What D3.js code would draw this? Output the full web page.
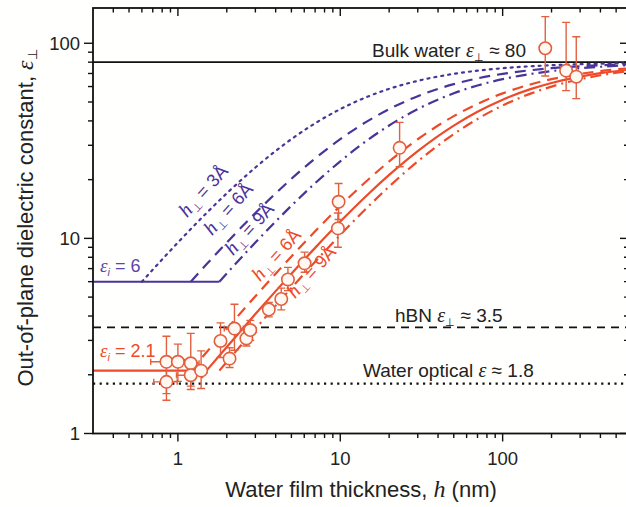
<!DOCTYPE html>
<html><head><meta charset="utf-8">
<script src="https://cdn.jsdelivr.net/npm/d3@7"></script>
<style>
html,body{margin:0;padding:0;background:#fffffd;}
svg{display:block;font-family:Arial,"Liberation Sans",sans-serif;}
</style></head>
<body><svg id="c" width="626" height="507"></svg>
<script>
// ---------- data ----------
const xDomain = [0.3, 600];
const yDomain = [1, 150];
const xMajorTicks = [1, 10, 100];
const xMinorTicks = [0.4,0.5,0.6,0.7,0.8,0.9,2,3,4,5,6,7,8,9,20,30,40,50,60,70,80,90,200,300,400,500];
const yMajorTicks = [1, 10, 100];
const yMinorTicks = [2,3,4,5,6,7,8,9,20,30,40,50,60,70,80,90];

const bulkWater = 80, hbn = 3.5, waterOptical = 1.8;

// flat segments
const purpleFlatH = [0.3, 1.8], purpleFlatE = [6, 6];
const redFlatH = [0.3, 1.5], redFlatE = [2.1, 2.1];

// purple (eps_i = 6) curves
const p3H = [0.6,0.8,1,1.5,2,3,4,5,7,10,15,20,30,50,70,100,150,200,300,400,600];
const p3E = [6.0,7.80,9.52,13.48,17.02,23.08,28.07,32.26,38.89,45.98,53.57,58.39,64.17,69.69,72.35,74.49,76.24,77.15,78.07,78.55,79.03];
const p6H = [1.2,1.5,2,3,4,5,7,10,15,20,30,50,70,100,150,200,300,400,600];
const p6E = [6.0,7.36,9.52,13.48,17.02,20.20,25.69,32.26,40.27,45.98,53.57,61.73,66.04,69.69,72.82,74.49,76.24,77.15,78.07];
const p9H = [1.8,2,3,4,5,7,10,15,20,30,50,70,100,150,200,300,400,600];
const p9E = [6.0,6.61,9.52,12.21,14.71,19.18,24.84,32.26,37.91,45.98,55.40,60.74,65.47,69.69,72.01,74.49,75.79,77.15];

// red (eps_i = 2.1) curves
const rFitH = [1.5,2,3,4,5,7,10,15,20,30,50,70,100,150,200,300,400,600];
const rFitE = [2.10,2.776,4.093,5.365,6.596,8.940,12.19,16.99,21.15,28.02,37.86,44.57,51.40,58.35,62.59,67.48,70.23,73.21];
const r6H = [1.2,1.5,2,3,4,5,7,10,15,20,30,50,70,100,150,200,300,400,600];
const r6E = [2.10,2.608,3.440,5.051,6.596,8.078,10.87,14.68,20.16,24.80,32.21,42.32,48.90,55.36,61.69,65.44,69.66,71.99,74.47];
const r9H = [1.8,2,3,4,5,7,10,15,20,30,50,70,100,150,200,300,400,600];
const r9E = [2.10,2.327,3.440,4.522,5.573,7.591,10.42,14.67,18.44,24.80,34.25,40.94,47.97,55.36,59.98,65.44,68.56,71.99];

// measured points
const ptH   = [0.85,0.85,1.00,1.20,1.20,1.39,1.83,2.08,2.23,2.64,2.79,3.63,4.33,4.76,6.03,9.67,9.77,23.2,183,246,284];
const ptE   = [2.33,1.84,2.33,2.29,1.99,2.10,2.98,2.42,3.45,3.07,3.39,4.32,4.89,6.16,7.45,11.25,15.4,29.1,94.3,72.4,67.4];
const ptLo  = [1.60,1.48,1.85,1.75,1.68,1.70,2.45,2.18,2.67,2.81,3.00,3.96,4.30,5.40,6.70,9.0,12.5,23.3,68,57.2,52];
const ptHi  = [3.15,2.25,2.87,3.26,2.40,2.65,3.69,2.75,4.60,3.40,3.80,4.70,5.56,7.10,8.50,13.5,19.1,39.3,137,128,108];
const ptHErr= [0.17,0.14,0.10,0.15,0.22,0.12,0.12,0.15,0.30,0.12,0.25,0.20,0.20,0.25,0.30,0.30,0.30,0,0,0,0];

// ---------- drawing ----------
const svg = d3.select("#c");
const L = 93, R = 629, T = 8, B = 433.5;
const x = d3.scaleLog().domain(xDomain).range([L, R]);
const y = d3.scaleLog().domain(yDomain).range([B, 8.9]);

const purple = "#4a3399", red = "#ee4a2a", mk = "#e2603f";

svg.append("defs").append("clipPath").attr("id","pc")
  .append("rect").attr("x",L).attr("y",T).attr("width",R-L).attr("height",B-T);
const g = svg.append("g").attr("clip-path","url(#pc)");

function hline(v, dash, w){
  g.append("line").attr("x1",L).attr("x2",R).attr("y1",y(v)).attr("y2",y(v))
   .attr("stroke","#111").attr("stroke-width",w).attr("stroke-dasharray",dash);
}
hline(bulkWater, null, 1.6);
hline(hbn, "8,6", 1.8);
hline(waterOptical, "2.2,4.4", 2.2);

const line = d3.line().x(d=>x(d[0])).y(d=>y(d[1])).curve(d3.curveMonotoneX);
function curve(H,E,color,dash,w){
  g.append("path").datum(H.map((h,i)=>[h,E[i]])).attr("d",line)
   .attr("fill","none").attr("stroke",color).attr("stroke-width",w)
   .attr("stroke-dasharray",dash).attr("stroke-linecap", dash==="2,5"?"round":"butt");
}
curve(purpleFlatH,purpleFlatE,purple,null,2);
curve(p3H,p3E,purple,"2,5",2.2);
curve(p6H,p6E,purple,"11,7",2.2);
curve(p9H,p9E,purple,"11,5,2,5",2.2);
curve(redFlatH,redFlatE,red,null,2.2);
curve(r6H,r6E,red,"11,7",2.2);
curve(r9H,r9E,red,"11,5,2,5",2.2);
curve(rFitH,rFitE,red,null,2.2);

const pg = g.append("g");
ptH.forEach((h,i)=>{
  const cx = x(h), cy = y(ptE[i]);
  pg.append("line").attr("x1",cx).attr("x2",cx).attr("y1",y(ptLo[i])).attr("y2",y(ptHi[i]))
    .attr("stroke",mk).attr("stroke-width",1.4);
  [ptLo[i],ptHi[i]].forEach(v=>pg.append("line").attr("x1",cx-4).attr("x2",cx+4)
    .attr("y1",y(v)).attr("y2",y(v)).attr("stroke",mk).attr("stroke-width",1.4));
  if(ptHErr[i]>0){
    const x1 = x(h-ptHErr[i]), x2 = x(h+ptHErr[i]);
    pg.append("line").attr("x1",x1).attr("x2",x2).attr("y1",cy).attr("y2",cy)
      .attr("stroke",mk).attr("stroke-width",1.4);
    [x1,x2].forEach(xx=>pg.append("line").attr("x1",xx).attr("x2",xx)
      .attr("y1",cy-3).attr("y2",cy+3).attr("stroke",mk).attr("stroke-width",1.4));
  }
});
ptH.forEach((h,i)=>{
  pg.append("circle").attr("cx",x(h)).attr("cy",y(ptE[i])).attr("r",6.2)
    .attr("fill","#fff8f2").attr("stroke",mk).attr("stroke-width",1.6);
});

const ax = svg.append("g");
function tickX(v, yy, len){ ax.append("line").attr("x1",x(v)).attr("x2",x(v)).attr("y1",yy).attr("y2",yy+len).attr("stroke","#111").attr("stroke-width",1.4); }
function tickY(v, xx, len){ ax.append("line").attr("x1",xx).attr("x2",xx+len).attr("y1",y(v)).attr("y2",y(v)).attr("stroke","#111").attr("stroke-width",1.4); }
xMajorTicks.forEach(v=>{ tickX(v,B,8); tickX(v,T,8); });
xMinorTicks.forEach(v=>{ tickX(v,B,4.5); tickX(v,T,4.5); });
yMajorTicks.forEach(v=>{ tickY(v,L,-9); tickY(v,R,-9); });
yMinorTicks.forEach(v=>{ tickY(v,L,-5); tickY(v,R,-5); });
ax.append("rect").attr("x",L).attr("y",T).attr("width",R-L).attr("height",B-T)
  .attr("fill","none").attr("stroke","#111").attr("stroke-width",1.8);

xMajorTicks.forEach(v=>ax.append("text").attr("x",x(v)).attr("y",465).attr("text-anchor","middle")
  .attr("font-size",18.5).attr("fill","#222").text(String(v)));
yMajorTicks.forEach(v=>ax.append("text").attr("x",80).attr("y",y(v)+6.5).attr("text-anchor","end")
  .attr("font-size",18.5).attr("fill","#222").text(String(v)));

const xt = svg.append("text").attr("x",361).attr("y",497).attr("text-anchor","middle")
  .attr("font-size",22).attr("fill","#222");
xt.append("tspan").text("Water film thickness, ");
xt.append("tspan").attr("font-family","Liberation Serif, serif").attr("font-style","italic").attr("font-size",24).text("h");
xt.append("tspan").text(" (nm)");

const yt = svg.append("text").attr("transform","translate(33,218) rotate(-90)").attr("text-anchor","middle")
  .attr("font-size",22).attr("fill","#222");
yt.append("tspan").text("Out-of-plane dielectric constant, ");
yt.append("tspan").attr("font-family","Liberation Serif, serif").attr("font-style","italic").attr("font-size",24).text("ε");
yt.append("tspan").attr("font-size",13).attr("dy",4).text("⊥");

function epsLabel(xx, yy, pre, sub, post, color, size, italicSub){
  const t = svg.append("text").attr("x",xx).attr("y",yy).attr("font-size",size).attr("fill",color);
  if(pre) t.append("tspan").text(pre);
  t.append("tspan").attr("font-family","Liberation Serif, serif").attr("font-style","italic").attr("font-size",size+1).text("ε");
  if(sub){ t.append("tspan").attr("font-size",size*0.6).attr("dy",4).attr("font-style",italicSub?"italic":"normal").text(sub);
           t.append("tspan").attr("dy",-4).text(post); }
  else t.append("tspan").text(post);
  return t;
}
epsLabel(372, 57, "Bulk water ", "⊥", " ≈ 80", "#222", 19);
epsLabel(395, 322, "hBN ", "⊥", " ≈ 3.5", "#222", 19);
epsLabel(363, 377, "Water optical ", null, " ≈ 1.8", "#222", 19);
epsLabel(100, 272, null, "i", " = 6", "#5a45aa", 18, true);
epsLabel(100, 357, null, "i", " = 2.1", red, 18, true);

function hLabel(cx, cy, val, color){
  const t = svg.append("text").attr("transform",`translate(${cx},${cy}) rotate(-48)`)
    .attr("text-anchor","middle").attr("font-size",18).attr("fill",color);
  t.append("tspan").attr("font-family","Liberation Serif, serif").attr("font-style","italic").attr("font-size",20).text("h");
  t.append("tspan").attr("font-size",11).attr("dy",4).text("⊥");
  t.append("tspan").attr("dy",-4).text(" = " + val + "Å");
}
hLabel(208, 195, "3", purple);
hLabel(233, 213, "6", purple);
hLabel(254, 233, "9", purple);
hLabel(281, 259, "6", red);
hLabel(316, 276, "9", red);
</script></body></html>
